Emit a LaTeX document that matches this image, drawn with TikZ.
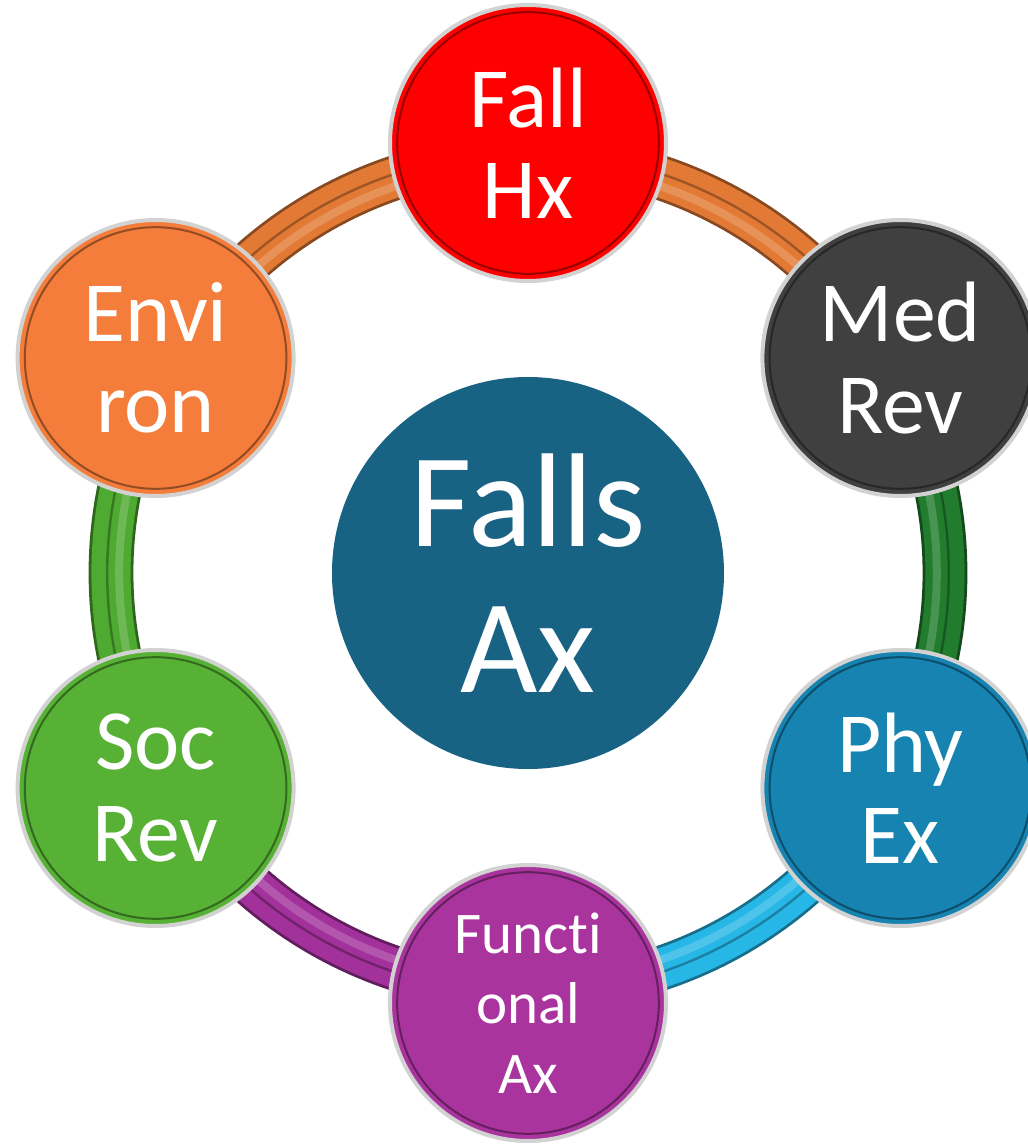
\documentclass[tikz,border=0pt]{standalone}
\usepackage{fontspec}
\setmainfont{Carlito}[Ligatures={NoCommon,NoContextual}]
\usetikzlibrary{backgrounds}
\definecolor{hxred}{HTML}{FF0000}
\definecolor{medgray}{HTML}{404040}
\definecolor{phyblue}{HTML}{1683B1}
\definecolor{funcpurple}{HTML}{A9349E}
\definecolor{socgreen}{HTML}{56B134}
\definecolor{envorange}{HTML}{F47D3B}
\definecolor{axblue}{HTML}{186384}
\definecolor{tubeor}{HTML}{E27A35}
\definecolor{tubedg}{HTML}{217C2D}
\definecolor{tubecy}{HTML}{27B7E6}
\definecolor{tubepu}{HTML}{A2319B}
\definecolor{tubelg}{HTML}{4EAA30}

\begin{document}
\begin{tikzpicture}[
    ball/.style={circle, minimum size=6.9cm, inner sep=0pt, fill=#1, draw=gray!35,
      line width=0.1cm, text=white, align=center, font=\fontsize{61}{65}\selectfont},
    hub/.style={circle, minimum size=9.8cm, inner sep=0pt, fill=axblue, text=white,
      align=center, font=\fontsize{95}{104}\selectfont}]
    \useasboundingbox (-13.2,-14.275) rectangle (12.5,14.325);
    \node[hub] (ax) at (0,0) {Falls\\Ax};
    \node[ball=hxred] (hx) at (90:10.75cm) {Fall\\Hx};
    \node[ball=medgray] (med) at (30:10.75cm) {Med\\Rev};
    \node[ball=phyblue] (phy) at (-30:10.75cm) {Phy\\Ex};
    \node[ball=funcpurple, font=\fontsize{42}{50}\selectfont] (func) at (-90:10.75cm) {Functi\\onal\\Ax};
    \node[ball=socgreen] (soc) at (-150:10.75cm) {Soc\\Rev};
    \node[ball=envorange] (env) at (150:10.75cm) {Envi\\ron};
    \foreach \n/\col in {hx/hxred,med/medgray,phy/phyblue,func/funcpurple,soc/socgreen,env/envorange}
        \draw[\col!60!black, line width=0.05cm] (\n.center) circle (3.27cm);
    \begin{scope}[on background layer]
        \foreach \a/\col in {90/tubeor,30/tubedg,-30/tubecy,-90/tubepu,-150/tubelg,150/tubeor} {
            \draw[\col!60!black, line width=1.12cm] (ax) ++(\a:10.425cm) arc (\a:\a-60:10.425cm);
            \draw[\col, line width=0.98cm] (ax) ++(\a:10.425cm) arc (\a:\a-60:10.425cm);
            \draw[\col!82!white, line width=0.2cm] (ax) ++(\a:10.22cm) arc (\a:\a-60:10.22cm);
            \draw[\col!70!black, line width=0.06cm] (ax) ++(\a:10.52cm) arc (\a:\a-60:10.52cm);
        }
    \end{scope}
\end{tikzpicture}
\end{document}
